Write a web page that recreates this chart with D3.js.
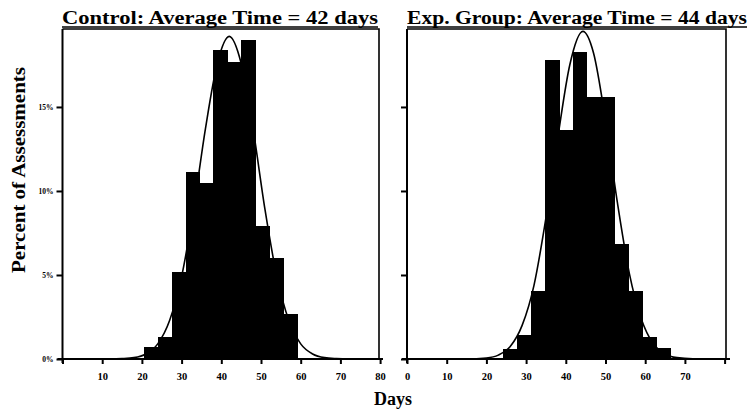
<!DOCTYPE html>
<html>
<head>
<meta charset="utf-8">
<script src="https://cdn.jsdelivr.net/npm/d3@7"></script>
<style>
  html, body { margin: 0; padding: 0; background: #fff; }
  svg { display: block; }
  text { font-family: "Liberation Serif", "Times New Roman", serif; font-weight: bold; fill: #000; }
</style>
</head>
<body>
<svg id="chart" width="749" height="412"></svg>
<script>
// Histogram of assessment duration, control vs. experimental group, with fitted curves.

const BIN_WIDTH = 3.5; // days

// Control group: bin start (days) and percent of assessments
const controlBins = [20.5, 24, 27.5, 31, 34.5, 38, 41.5, 45, 48.5, 52, 55.5];
const controlPct = [0.7, 1.3, 5.2, 11.1, 10.5, 18.4, 17.7, 19.0, 7.9, 6.0, 2.7];

// Exp. group
const expBins = [24.2, 27.7, 31.2, 34.7, 38.2, 41.7, 45.2, 48.7, 52.2, 55.7, 59.2, 62.7];
const expPct = [0.6, 1.4, 4.05, 17.8, 13.6, 18.3, 15.6, 15.6, 6.85, 4.05, 1.3, 0.65];

// Fitted curves (day, percent)
const controlCurveDays = [0, 12, 15, 18, 21, 24, 27, 30, 33, 36, 39, 42, 45, 48, 51, 54, 57, 60, 63, 66, 69, 72, 80];
const controlCurvePct = [0, 0, 0.02, 0.08, 0.3, 0.9, 2.3, 4.9, 8.9, 13.7, 17.6, 19.2, 17.6, 13.7, 8.9, 4.9, 2.3, 0.9, 0.3, 0.08, 0.02, 0, 0];
const expCurveDays = [0, 15, 20, 23, 26, 29, 32, 35, 38, 41, 44.3, 47, 50, 53, 56, 59, 62, 65, 68, 72, 80];
const expCurvePct = [0, 0, 0.06, 0.23, 0.74, 2.0, 4.4, 8.4, 13.2, 17.5, 19.5, 18.2, 14.2, 9.3, 5.1, 2.4, 0.92, 0.3, 0.08, 0.01, 0];

const xTicks = [0, 10, 20, 30, 40, 50, 60, 70, 80];
const yTicks = [0, 5, 10, 15];

const controlTitle = 'Control: Average Time = 42 days';
const expTitle = 'Exp. Group: Average Time = 44 days';

const svg = d3.select('#chart');

const yScale = d3.scaleLinear().domain([0, 19.64]).range([359, 29]);

const panels = [
  {
    x0: 62.5, x1: 379, title: controlTitle, titleX0: 62, titleX1: 378,
    bins: controlBins, pct: controlPct,
    curveDays: controlCurveDays, curvePct: controlCurvePct,
    showYLabels: true, hideTick: 0,
  },
  {
    x0: 407, x1: 726, title: expTitle, titleX0: 407, titleX1: 747,
    bins: expBins, pct: expPct,
    curveDays: expCurveDays, curvePct: expCurvePct,
    showYLabels: false, hideTick: 80,
  },
];

panels.forEach((p) => drawPanel(p));

function drawPanel(p) {
  const xScale = d3.scaleLinear().domain([0, 80]).range([p.x0, p.x0 + 80 * 3.97]);
  const g = svg.append('g');
  const top = yScale.range()[1];
  const bottom = yScale(0);

  // bars (slight overlap so neighbours merge into one solid block)
  g.selectAll('.bar')
    .data(p.bins.map((b, i) => ({ start: b, value: p.pct[i] })))
    .join('rect')
    .attr('class', 'bar')
    .attr('x', (d) => Math.round(xScale(d.start)))
    .attr('width', (d) => Math.round(xScale(d.start + BIN_WIDTH)) - Math.round(xScale(d.start)) + 1)
    .attr('y', (d) => Math.round(yScale(d.value)))
    .attr('height', (d) => bottom - Math.round(yScale(d.value)))
    .attr('fill', '#000')
    .attr('shape-rendering', 'crispEdges');

  // fitted curve
  const curvePts = p.curveDays.map((d, i) => [d, p.curvePct[i]]);
  g.append('path')
    .datum(curvePts)
    .attr('fill', 'none')
    .attr('stroke', '#000')
    .attr('stroke-width', 1.6)
    .attr('d', d3.line()
      .x((d) => xScale(d[0]))
      .y((d) => yScale(d[1]))
      .curve(d3.curveMonotoneX));

  // frame (top and right)
  g.append('path')
    .attr('d', `M${p.x0},${top}H${p.x1}V${bottom}`)
    .attr('fill', 'none')
    .attr('stroke', '#000')
    .attr('stroke-width', 1.6);

  // x axis
  const xAxis = d3.axisBottom(xScale)
    .tickValues(xTicks)
    .tickSize(5)
    .tickPadding(9)
    .tickFormat((d) => (d === p.hideTick ? '' : d));
  const xg = g.append('g')
    .attr('transform', `translate(0,${bottom})`)
    .call(xAxis);
  xg.select('.domain').remove();
  xg.selectAll('.tick line').attr('stroke', '#000').attr('stroke-width', 2);
  xg.selectAll('.tick text')
    .attr('font-size', 10.5)
    .attr('font-family', '"Liberation Serif", serif')
    .attr('font-weight', 'bold')
    .attr('fill', '#000');
  g.append('line')
    .attr('x1', p.x0 - 5).attr('x2', p.x1 + 4)
    .attr('y1', bottom).attr('y2', bottom)
    .attr('stroke', '#000').attr('stroke-width', 2);

  // y axis
  const yAxis = d3.axisLeft(yScale)
    .tickValues(yTicks)
    .tickSize(6)
    .tickPadding(3)
    .tickFormat((d) => (p.showYLabels ? d + '%' : ''));
  const yg = g.append('g')
    .attr('transform', `translate(${p.x0},0)`)
    .call(yAxis);
  yg.select('.domain').remove();
  yg.selectAll('.tick line').attr('stroke', '#000').attr('stroke-width', 2);
  yg.selectAll('.tick text')
    .attr('font-size', 7.5)
    .attr('font-family', '"Liberation Serif", serif')
    .attr('font-weight', 'bold')
    .attr('fill', '#000');
  g.append('line')
    .attr('x1', p.x0).attr('x2', p.x0)
    .attr('y1', top).attr('y2', bottom + 4)
    .attr('stroke', '#000').attr('stroke-width', 2);

  // title, underlined
  g.append('text')
    .attr('x', p.titleX0)
    .attr('y', 24)
    .attr('font-size', 18)
    .attr('textLength', p.titleX1 - p.titleX0)
    .attr('lengthAdjust', 'spacingAndGlyphs')
    .text(p.title);
  g.append('line')
    .attr('x1', p.titleX0).attr('x2', p.titleX1)
    .attr('y1', 27).attr('y2', 27)
    .attr('stroke', '#000').attr('stroke-width', 1.5);
}

// axis titles
svg.append('text')
  .attr('transform', 'translate(25,170) rotate(-90)')
  .attr('text-anchor', 'middle')
  .attr('font-size', 18)
  .attr('textLength', 206)
  .attr('lengthAdjust', 'spacingAndGlyphs')
  .text('Percent of Assessments');

svg.append('text')
  .attr('x', 393)
  .attr('y', 405)
  .attr('text-anchor', 'middle')
  .attr('font-size', 18)
  .text('Days');
</script>
</body>
</html>
